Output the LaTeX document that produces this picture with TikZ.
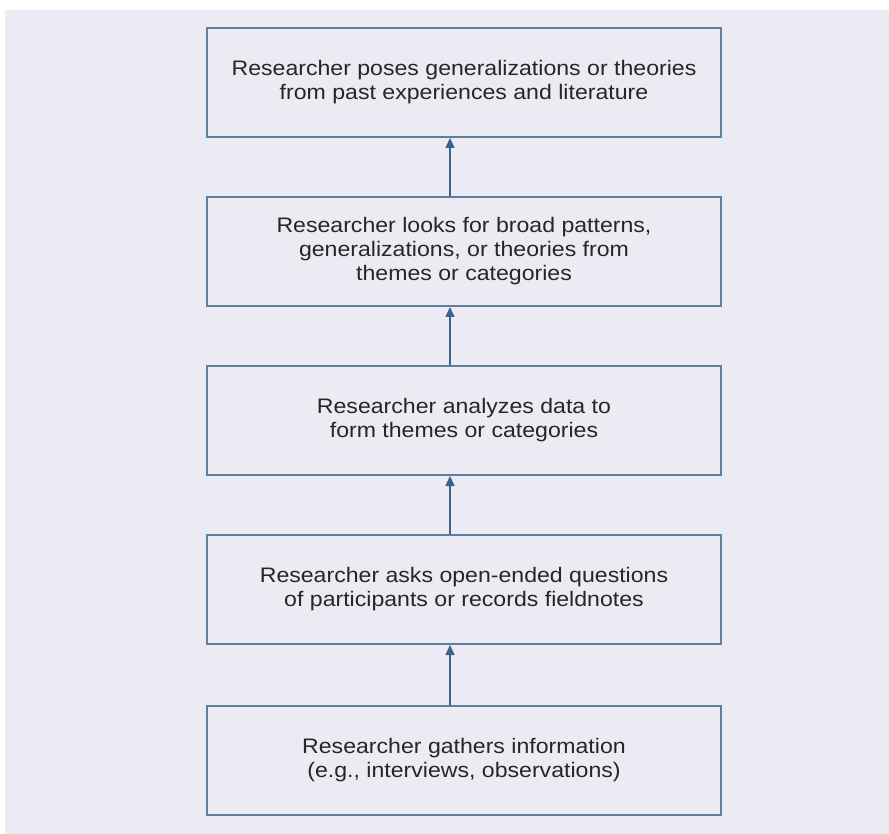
\documentclass[tikz,border=0pt]{standalone}
\usepackage{fontspec}
\setmainfont{Liberation Sans}[FakeStretch=1.1]
\usetikzlibrary{arrows.meta}
\definecolor{bg}{HTML}{ECEBF4}
\definecolor{boxline}{HTML}{5E7F9C}
\definecolor{arrowc}{HTML}{3D6488}
\definecolor{txt}{HTML}{262626}
\tikzset{
  stepbox/.style={draw=boxline, line width=2pt, fill=bg, minimum width=514pt, minimum height=109pt,
    align=center, text=txt, font=\fontsize{21}{24}\selectfont, inner sep=0pt},
  link/.style={draw=arrowc, line width=1.6pt, -{Triangle[length=10pt,width=9pt]}}
}
\begin{document}
\begin{tikzpicture}[x=1pt,y=-1pt]
\useasboundingbox (0,0) rectangle (889,834);
\fill[white] (0,0) rectangle (889,834);
\fill[bg] (5,10) rectangle (889,834);
\node[stepbox] (b1) at (464,82.5) {Researcher poses generalizations or theories\\from past experiences and literature};
\node[stepbox] (b2) at (464,251.5) {Researcher looks for broad patterns,\\generalizations, or theories from\\themes or categories};
\node[stepbox] (b3) at (464,420.5) {Researcher analyzes data to\\form themes or categories};
\node[stepbox] (b4) at (464,589.5) {Researcher asks open-ended questions\\of participants or records fieldnotes};
\node[stepbox] (b5) at (464,760) {Researcher gathers information\\(e.g., interviews, observations)};
\draw[link] (b2.north -| 450,0) -- (b1.south -| 450,0);
\draw[link] (b3.north -| 450,0) -- (b2.south -| 450,0);
\draw[link] (b4.north -| 450,0) -- (b3.south -| 450,0);
\draw[link] (b5.north -| 450,0) -- (b4.south -| 450,0);
\end{tikzpicture}
\end{document}
